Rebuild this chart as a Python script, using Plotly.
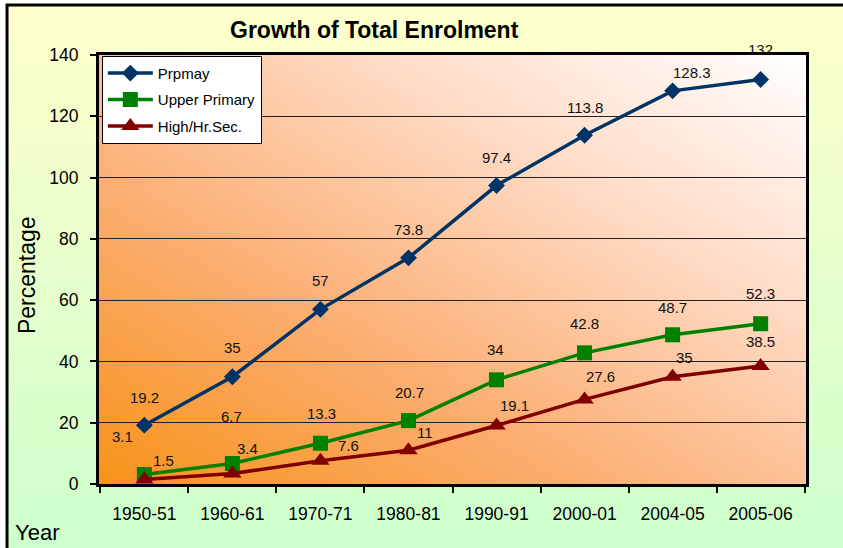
import base64
import plotly.graph_objects as go

# ---- data ----
years = ["1950-51", "1960-61", "1970-71", "1980-81", "1990-91", "2000-01", "2004-05", "2005-06"]
primary = [19.2, 35, 57, 73.8, 97.4, 113.8, 128.3, 132]
upper_primary = [3.1, 6.7, 13.3, 20.7, 34, 42.8, 48.7, 52.3]
high_sec = [1.5, 3.4, 7.6, 11, 19.1, 27.6, 35, 38.5]
y_ticks = [0, 20, 40, 60, 80, 100, 120, 140]

# label pixel offsets (style only)
off_primary = [(0, 28), (0, 29), (0, 29), (0, 28), (0, 28), (0, 28), (19, 18), (0, 30)]
off_upper = [(-22, 38), (-1, 47), (1, 30), (1, 28), (-1, 30), (0, 29), (0, 27), (0, 30)]
off_high = [(19, 19), (15, 25), (28, 15), (17, 18), (18, 20), (16, 23), (12, 19), (0, 25)]

FONT = "Liberation Sans, Arial, sans-serif"


def svg_uri(svg):
    return "data:image/svg+xml;base64," + base64.b64encode(svg.encode()).decode()


outer_svg = """<svg xmlns='http://www.w3.org/2000/svg' width='100' height='100' viewBox='0 0 100 100' preserveAspectRatio='none'>
<defs><linearGradient id='g' x1='0' y1='0' x2='0' y2='1'>
<stop offset='0' stop-color='#FFFFCC'/><stop offset='1' stop-color='#CCFFCC'/></linearGradient></defs>
<rect width='100' height='100' fill='url(#g)'/></svg>"""

plot_svg = """<svg xmlns='http://www.w3.org/2000/svg' width='100' height='100' viewBox='0 0 100 100' preserveAspectRatio='none'>
<defs><linearGradient id='g' x1='0' y1='1' x2='1' y2='0'>
<stop offset='0' stop-color='#F8931A'/><stop offset='0.35' stop-color='#FBAE72'/>
<stop offset='0.7' stop-color='#FFDCC8'/><stop offset='1' stop-color='#FFFFFF'/></linearGradient></defs>
<rect width='100' height='100' fill='url(#g)'/></svg>"""

fig = go.Figure()
series = [
    ("Prpmay", primary, "#003366", "diamond", 13, "a"),
    ("Upper Primary", upper_primary, "#008000", "square", 15, "b"),
    ("High/Hr.Sec.", high_sec, "#800000", "triangle-up", 16, "c"),
]
for name, vals, col, sym, size, grp in series:
    fig.add_trace(go.Scatter(
        x=years, y=vals, name=name, mode="lines+markers", legendgroup=grp,
        line=dict(color=col, width=3.5),
        marker=dict(symbol=sym, size=size, color=col),
    ))

annotations = []
for vals, offs in [(primary, off_primary), (upper_primary, off_upper), (high_sec, off_high)]:
    for xv, v, (dx, dy) in zip(years, vals, offs):
        annotations.append(dict(
            x=xv, y=v, xref="x", yref="y", text=f"{v:g}", showarrow=False,
            xanchor="center", yanchor="middle",
            xshift=dx, yshift=dy, font=dict(family=FONT, size=15, color="#111111"),
        ))

annotations += [
    dict(x=0.390, y=1.058, xref="paper", yref="paper", text="<b>Growth of Total Enrolment</b>",
         xanchor="center", yanchor="middle",
         showarrow=False, font=dict(family=FONT, size=23, color="#000000")),
    dict(x=-0.1018, y=0.487, xref="paper", yref="paper", text="Percentage", textangle=-90,
         xanchor="center", yanchor="middle",
         showarrow=False, font=dict(family=FONT, size=23, color="#000000")),
    dict(x=-0.1216, y=-0.112, xref="paper", yref="paper", text="Year",
         xanchor="left", yanchor="middle",
         showarrow=False, font=dict(family=FONT, size=22, color="#000000")),
]

fig.update_layout(
    width=843, height=548,
    margin=dict(l=99, r=37, t=55, b=64),
    paper_bgcolor="#FFFFFF",
    plot_bgcolor="rgba(0,0,0,0)",
    font=dict(family=FONT, color="#000000"),
    showlegend=True,
    legend=dict(x=0.004, y=0.998, xanchor="left", yanchor="top",
                bgcolor="#FFFFFF", bordercolor="#000000", borderwidth=1,
                font=dict(family=FONT, size=15, color="#000000"),
                tracegroupgap=4, itemwidth=45),
    images=[
        dict(source=svg_uri(outer_svg), xref="paper", yref="paper",
             x=-0.1301, y=1.1166, sizex=1.2, sizey=1.28, xanchor="left", yanchor="top",
             sizing="stretch", layer="below"),
        dict(source=svg_uri(plot_svg), xref="paper", yref="paper",
             x=0, y=1, sizex=1, sizey=1, xanchor="left", yanchor="top",
             sizing="stretch", layer="below"),
    ],
    shapes=[
        dict(type="rect", xref="paper", yref="paper", x0=-0.1301, x1=1.0622, y0=-0.177, y1=1.1166,
             line=dict(color="#000000", width=3), fillcolor="rgba(0,0,0,0)", layer="above"),
    ],
    annotations=annotations,
    xaxis=dict(
        type="category", showgrid=False, ticks="outside", tickson="boundaries",
        ticklen=6, tickwidth=1.5, tickcolor="#000000",
        showline=True, linecolor="#000000", linewidth=3, mirror=True,
        tickfont=dict(family=FONT, size=17.5, color="#000000"),
        ticklabelstandoff=12,
    ),
    yaxis=dict(
        range=[0, 140], tickvals=y_ticks, ticks="outside", ticklen=6, tickwidth=1.5,
        tickcolor="#000000", showgrid=True, gridcolor="#222222", gridwidth=1,
        zeroline=False, showline=True, linecolor="#000000", linewidth=3, mirror=True,
        tickfont=dict(family=FONT, size=17.5, color="#000000"),
        ticklabelstandoff=8,
    ),
)

fig.write_html("out.html", config={"displayModeBar": False},
               post_script="document.body.style.margin='0';")
